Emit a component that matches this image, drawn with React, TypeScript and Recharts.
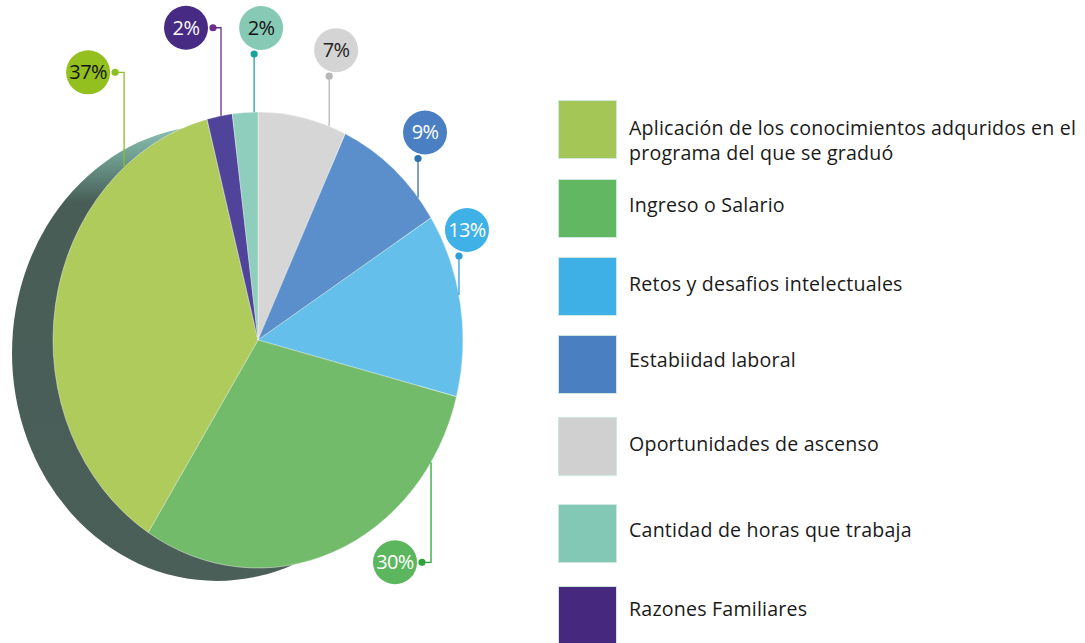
import React from 'react';
import { PieChart, Pie, Cell } from 'recharts';

// ---------- data ----------
const CATEGORIES = [
  'Oportunidades de ascenso',
  'Estabiidad laboral',
  'Retos y desafios intelectuales',
  'Ingreso o Salario',
  'Aplicación de los conocimientos adquridos en el programa del que se graduó',
  'Razones Familiares',
  'Cantidad de horas que trabaja',
];
const VALUES = [7, 9, 13, 30, 37, 2, 2];
const PERCENT_LABELS = ['7%', '9%', '13%', '30%', '37%', '2%', '2%'];
const LEGEND_ORDER = [4, 3, 2, 1, 0, 6, 5];
const LEGEND_LINES = [
  ['Aplicación de los conocimientos adquridos en el', 'programa del que se graduó'],
  ['Ingreso o Salario'],
  ['Retos y desafios intelectuales'],
  ['Estabiidad laboral'],
  ['Oportunidades de ascenso'],
  ['Cantidad de horas que trabaja'],
  ['Razones Familiares'],
];

// ---------- styles ----------
const SLICE_COLORS = ['#d6d6d6', '#5a8fcb', '#65bfeb', '#72bb6a', '#aecb5c', '#4f449a', '#8fcdbc'];
const LEGEND_COLORS = ['#d0d0d0', '#4a7fc1', '#3eb0e5', '#62b862', '#a4c656', '#46287f', '#83c8b4'];
const BUBBLE_COLORS = ['#d4d4d4', '#4a80c3', '#3fb1e6', '#5cb65d', '#93c01f', '#472a84', '#86cab6'];
const BUBBLE_TEXT = ['#222222', '#ffffff', '#ffffff', '#ffffff', '#111111', '#ffffff', '#111111'];
const DOT_COLORS = ['#b8b8b8', '#2f6fb3', '#2c9fd8', '#2ea43a', '#8cbf26', '#6a2f8a', '#1aa3a0'];

// label callout layout: fraction along slice, bubble offset, elbow type
const LABEL_LAYOUT = [
  { f: 0.806, dx: 7, dy: -76, kind: 'up' },
  { f: 0.806, dx: 7, dy: -65, kind: 'up' },
  { f: 0.449, dx: 8, dy: -65, kind: 'up' },
  { f: 0.167, dx: -36, dy: 100, kind: 'elbow' },
  { f: 0.802, dx: -36, dy: -95, kind: 'elbow' },
  { f: 0.556, dx: -35, dy: -88, kind: 'elbow' },
  { f: 0.85, dx: 7, dy: -84, kind: 'up' },
];
const LEGEND_TOPS = [100, 179, 257, 335, 417, 504, 586];
const LEGEND_BASELINES = [135, 212, 291, 367, 451, 537, 616];
const LEGEND_LINE_GAP = 25;

const W = 1085;
const H = 643;
const CX = 258;
const CY = 340;
const R = 205;
const ASPECT = 228 / 205;
const BUBBLE_R = 22;
const FONT = '"Open Sans", "Noto Sans", sans-serif';

const pieData = CATEGORIES.map((name, i) => ({ name, value: VALUES[i] }));
const shadowData = [{ name: 'sombra', value: 1 }];

const RAD = Math.PI / 180;

function ellipsePoint(cx: number, cy: number, rx: number, ry: number, a: number) {
  return { x: cx + rx * Math.cos(a * RAD), y: cy - ry * Math.sin(a * RAD) };
}

function EllipseSector(props: any) {
  const { cx, cy, outerRadius, startAngle, endAngle, fill, stroke, strokeWidth } = props;
  const rx = outerRadius;
  const ry = outerRadius * ASPECT;
  const span = Math.abs(endAngle - startAngle);
  let d = '';
  if (span >= 359.99) {
    d = `M ${cx - rx},${cy} A ${rx} ${ry} 0 1 1 ${cx + rx},${cy} A ${rx} ${ry} 0 1 1 ${cx - rx},${cy} Z`;
  } else {
    const p0 = ellipsePoint(cx, cy, rx, ry, startAngle);
    const p1 = ellipsePoint(cx, cy, rx, ry, endAngle);
    const large = span > 180 ? 1 : 0;
    const sweep = startAngle > endAngle ? 1 : 0;
    d = `M ${cx},${cy} L ${p0.x},${p0.y} A ${rx} ${ry} 0 ${large} ${sweep} ${p1.x},${p1.y} Z`;
  }
  return <path d={d} fill={fill} stroke={stroke} strokeWidth={strokeWidth} strokeOpacity={0.7} />;
}

function renderBubble(props: any) {
  const { cx, cy, outerRadius, startAngle, endAngle, midAngle, index } = props;
  const lay = LABEL_LAYOUT[index];
  const a = startAngle !== undefined && endAngle !== undefined
    ? startAngle + lay.f * (endAngle - startAngle)
    : midAngle;
  const p = ellipsePoint(cx, cy, outerRadius, outerRadius * ASPECT, a);
  const bx = p.x + lay.dx;
  const by = p.y + lay.dy;
  const dotColor = DOT_COLORS[index];
  let line = '';
  let dot = { x: 0, y: 0 };
  if (lay.kind === 'up') {
    dot = { x: p.x, y: by + BUBBLE_R + 4 };
    line = `M ${p.x},${p.y} L ${dot.x},${dot.y}`;
  } else {
    dot = { x: bx + BUBBLE_R + 5, y: by };
    line = `M ${p.x},${p.y} L ${p.x},${by} L ${dot.x},${dot.y}`;
  }
  return (
    <g key={`lbl-${index}`}>
      <path d={line} fill="none" stroke={dotColor} strokeWidth={1.3} />
      <circle cx={bx} cy={by} r={BUBBLE_R} fill={BUBBLE_COLORS[index]} />
      <circle cx={dot.x} cy={dot.y} r={3.6} fill={dotColor} />
      <text
        x={bx}
        y={by + 7}
        textAnchor="middle"
        fontFamily={FONT}
        fontSize={20}
        letterSpacing={-0.6}
        fill={BUBBLE_TEXT[index]}
      >
        {PERCENT_LABELS[index]}
      </text>
    </g>
  );
}

function Legend() {
  return (
    <g>
      {LEGEND_ORDER.map((ci, k) => {
        const top = LEGEND_TOPS[k];
        const lines = LEGEND_LINES[k];
        const base = LEGEND_BASELINES[k];
        return (
          <g key={`leg-${k}`}>
            <rect x={558.5} y={top + 0.5} width={58} height={58} fill={LEGEND_COLORS[ci]} stroke="#cfe7e1" strokeWidth={1} />
            <text x={629} y={base} fontFamily={FONT} fontSize={19.6} letterSpacing={0.2} fill="#1a1a1a">
              {lines.map((ln, j) => (
                <tspan key={j} x={629} y={base + j * LEGEND_LINE_GAP}>{ln}</tspan>
              ))}
            </text>
          </g>
        );
      })}
    </g>
  );
}

export default function App() {
  return (
    <div style={{ position: 'absolute', left: 0, top: 0, width: W, height: H, background: '#ffffff' }}>
      <PieChart width={W} height={H} margin={{ top: 0, right: 0, bottom: 0, left: 0 }}>
        <defs>
          <linearGradient id="shadowGrad" x1="0" y1="0" x2="0" y2="1">
            <stop offset="0" stopColor="#8cc3b2" />
            <stop offset="0.07" stopColor="#6f9e90" />
            <stop offset="0.17" stopColor="#475d56" />
            <stop offset="1" stopColor="#4b5f59" />
          </linearGradient>
        </defs>
        <Pie
          data={shadowData}
          dataKey="value"
          cx={CX - 41}
          cy={CY + 13}
          outerRadius={R}
          startAngle={90}
          endAngle={-270}
          stroke="none"
          isAnimationActive={false}
          shape={EllipseSector}
        >
          <Cell fill="url(#shadowGrad)" />
        </Pie>
        <Pie
          data={pieData}
          dataKey="value"
          cx={CX}
          cy={CY}
          outerRadius={R}
          startAngle={90}
          endAngle={-270}
          stroke="#ffffff"
          strokeWidth={0.6}
          isAnimationActive={false}
          shape={EllipseSector}
          label={renderBubble}
          labelLine={false}
        >
          {pieData.map((d, i) => (
            <Cell key={d.name} fill={SLICE_COLORS[i]} />
          ))}
        </Pie>
        <Legend />
      </PieChart>
    </div>
  );
}
